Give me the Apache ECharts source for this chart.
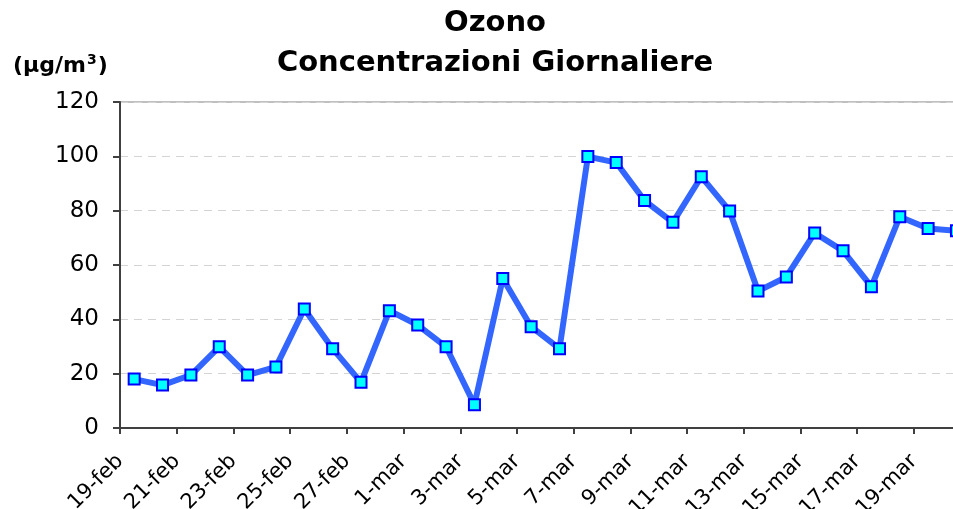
<!DOCTYPE html>
<html>
<head>
<meta charset="utf-8">
<script src="https://cdn.jsdelivr.net/npm/echarts@6/dist/echarts.min.js"></script>
<style>
  html, body { margin: 0; padding: 0; background: #fff; }
  #chart { width: 953px; height: 509px; }
</style>
</head>
<body>
<div id="chart"></div>
<script>
// days shown on the x axis (one point per day)
var days = [
  '19-feb', '20-feb', '21-feb', '22-feb', '23-feb', '24-feb', '25-feb', '26-feb', '27-feb', '28-feb',
  '1-mar', '2-mar', '3-mar', '4-mar', '5-mar', '6-mar', '7-mar', '8-mar', '9-mar', '10-mar',
  '11-mar', '12-mar', '13-mar', '14-mar', '15-mar', '16-mar', '17-mar', '18-mar', '19-mar', '20-mar'
]
// daily ozone concentration (ug/m3)
var ozono = [
  18, 15.8, 19.5, 29.9, 19.5, 22.5, 43.8, 29.2, 16.8, 43.2,
  37.9, 29.9, 8.6, 55, 37.3, 29.2, 99.9, 97.7, 83.7, 75.7,
  92.5, 79.9, 50.4, 55.6, 71.8, 65.2, 52, 77.8, 73.4, 72.6
]
var yTicks = [0, 20, 40, 60, 80, 100, 120]

// each day sits in the middle of its slot, labels sit on the slot edges
var points = ozono.map(function (v, i) { return [i + 0.5, v] })

var font = 'Tahoma, "DejaVu Sans", Verdana, sans-serif'
var chart = echarts.init(document.getElementById('chart'))
chart.setOption({
  animation: false,
  title: [
    {
      text: 'Ozono\nConcentrazioni Giornaliere',
      left: 490,
      top: -2,
      textAlign: 'center',
      textStyle: { fontFamily: font, fontWeight: 'bold', fontSize: 29, lineHeight: 40, color: '#000' }
    },
    {
      text: '(µg/m{s|3})',
      left: 8,
      top: 48,
      textStyle: {
        fontFamily: font, fontWeight: 'bold', fontSize: 22, color: '#000',
        rich: { s: { fontFamily: font, fontWeight: 'bold', fontSize: 14, verticalAlign: 'top', padding: [0, 1, 12, 1] } }
      }
    }
  ],
  grid: {
    left: 120, top: 102, width: 879, height: 326,
    outerBoundsMode: 'none',
    show: true, borderColor: '#808080', borderWidth: 1
  },
  xAxis: {
    type: 'value',
    min: 0,
    max: days.length + 1,
    interval: 2,
    axisLine: { show: true, lineStyle: { color: '#404040', width: 2 } },
    axisTick: { show: true, length: 6, lineStyle: { color: '#404040', width: 2 } },
    splitLine: { show: false },
    axisLabel: {
      rotate: 45,
      margin: 30,
      fontFamily: font,
      fontSize: 21,
      color: '#000',
      showMaxLabel: false,
      formatter: function (v) { return days[v] || '' }
    }
  },
  yAxis: {
    type: 'value',
    min: yTicks[0],
    max: yTicks[yTicks.length - 1],
    interval: 20,
    axisLine: { show: true, lineStyle: { color: '#404040', width: 2 } },
    axisTick: { show: true, length: 7, lineStyle: { color: '#404040', width: 2 } },
    splitLine: { show: true, lineStyle: { color: '#d4d4d4', type: [8, 6], width: 1 } },
    axisLabel: { margin: 21, fontFamily: font, fontSize: 23, color: '#000' }
  },
  series: [{
    type: 'line',
    data: points,
    symbol: 'rect',
    symbolSize: 11,
    lineStyle: { color: '#3366ff', width: 6 },
    itemStyle: { color: '#00ffff', borderColor: '#0000ff', borderWidth: 2 }
  }]
})
</script>
</body>
</html>
